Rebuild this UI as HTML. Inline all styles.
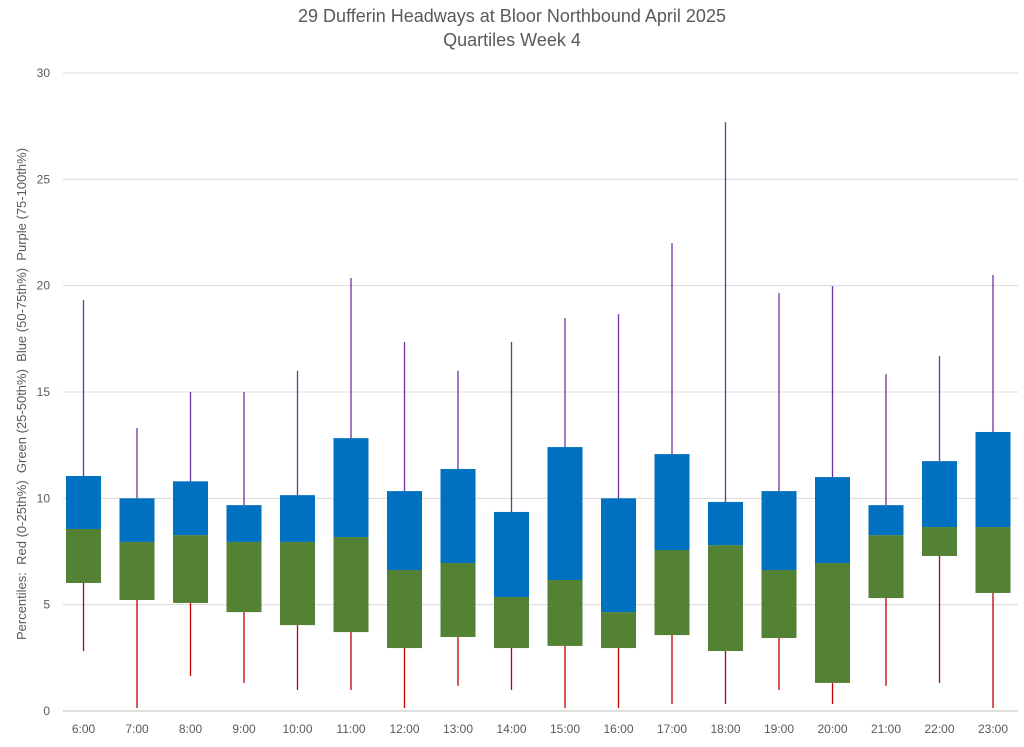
<!DOCTYPE html>
<html><head><meta charset="utf-8"><style>
body{margin:0;background:#fff;font-family:"Liberation Sans",sans-serif}
svg text{font-family:"Liberation Sans",sans-serif;fill:#595959}
</style></head><body>
<svg id="chart" width="1024" height="742" viewBox="0 0 1024 742" xmlns="http://www.w3.org/2000/svg">
<rect width="1024" height="742" fill="#fff"/>
<text x="512" y="22" font-size="18" text-anchor="middle">29 Dufferin Headways at Bloor Northbound April 2025</text>
<text x="512" y="46" font-size="18" text-anchor="middle">Quartiles Week 4</text>
<text transform="translate(26,394) rotate(-90)" font-size="13" text-anchor="middle" style="white-space:pre" xml:space="preserve">Percentiles:  Red (0-25th%)  Green (25-50th%)  Blue (50-75th%)  Purple (75-100th%)</text>
<g id="grid"></g><g id="marks"></g><g id="labels"></g>
</svg>
<script>
const categories=["6:00","7:00","8:00","9:00","10:00","11:00","12:00","13:00","14:00","15:00","16:00","17:00","18:00","19:00","20:00","21:00","22:00","23:00"];
const minVals=[2.82,0.14,1.65,1.32,0.99,0.99,0.14,1.18,0.99,0.14,0.14,0.33,0.33,0.99,0.33,1.18,1.32,0.14];
const q1Vals=[6.02,5.22,5.08,4.65,4.04,3.71,2.96,3.48,2.96,3.06,2.96,3.57,2.82,3.43,1.32,5.31,7.29,5.55];
const medianVals=[8.56,7.95,8.27,7.95,7.95,8.18,6.63,6.96,5.36,6.16,4.65,7.57,7.8,6.63,6.96,8.27,8.65,8.65];
const q3Vals=[11.05,10.0,10.8,9.68,10.15,12.83,10.34,11.38,9.36,12.41,10.0,12.08,9.83,10.34,11.0,9.68,11.75,13.12];
const maxVals=[19.32,13.3,15.0,15.0,16.0,20.36,17.35,16.0,17.35,18.48,18.66,22.0,27.69,19.65,19.98,15.84,16.69,20.5];
const yTicks=[0,5,10,15,20,25,30];
const NS="http://www.w3.org/2000/svg";
const y=v=>711-v*(638/30);
const x=i=>83.5+i*53.5;
function mk(tag,attrs,parent){const e=document.createElementNS(NS,tag);for(const k in attrs)e.setAttribute(k,attrs[k]);document.getElementById(parent).appendChild(e);return e;}
yTicks.forEach(t=>{
  const l=mk('line',{x1:63,x2:1018,y1:y(t),y2:y(t),stroke:t===0?'#bfbfbf':'#d9d9d9','stroke-width':1},'grid');
  
  
  const tx=mk('text',{x:50,y:y(t)+4,'font-size':12,'text-anchor':'end'},'labels');
  tx.textContent=t;
  
  
});
categories.forEach((c,i)=>{
  const cx=x(i),w=35;
  const lo=mk('line',{x1:cx,x2:cx,y1:y(minVals[i]),y2:y(q1Vals[i]),stroke:'#c00000','stroke-width':1.3},'marks');
  
  
  const hi=mk('line',{x1:cx,x2:cx,y1:y(maxVals[i]),y2:y(q3Vals[i]),stroke:'#7030a0','stroke-width':1.3},'marks');
  
  
  const g=mk('rect',{x:cx-w/2,width:w,y:y(medianVals[i]),height:y(q1Vals[i])-y(medianVals[i]),fill:'#548235'},'marks');
  
  
  const b=mk('rect',{x:cx-w/2,width:w,y:y(q3Vals[i]),height:y(medianVals[i])-y(q3Vals[i]),fill:'#0070c0'},'marks');
  
  
  const tx=mk('text',{x:cx,y:733,'font-size':12,'text-anchor':'middle'},'labels');
  tx.textContent=c;
  
  
});
</script>
</body></html>
